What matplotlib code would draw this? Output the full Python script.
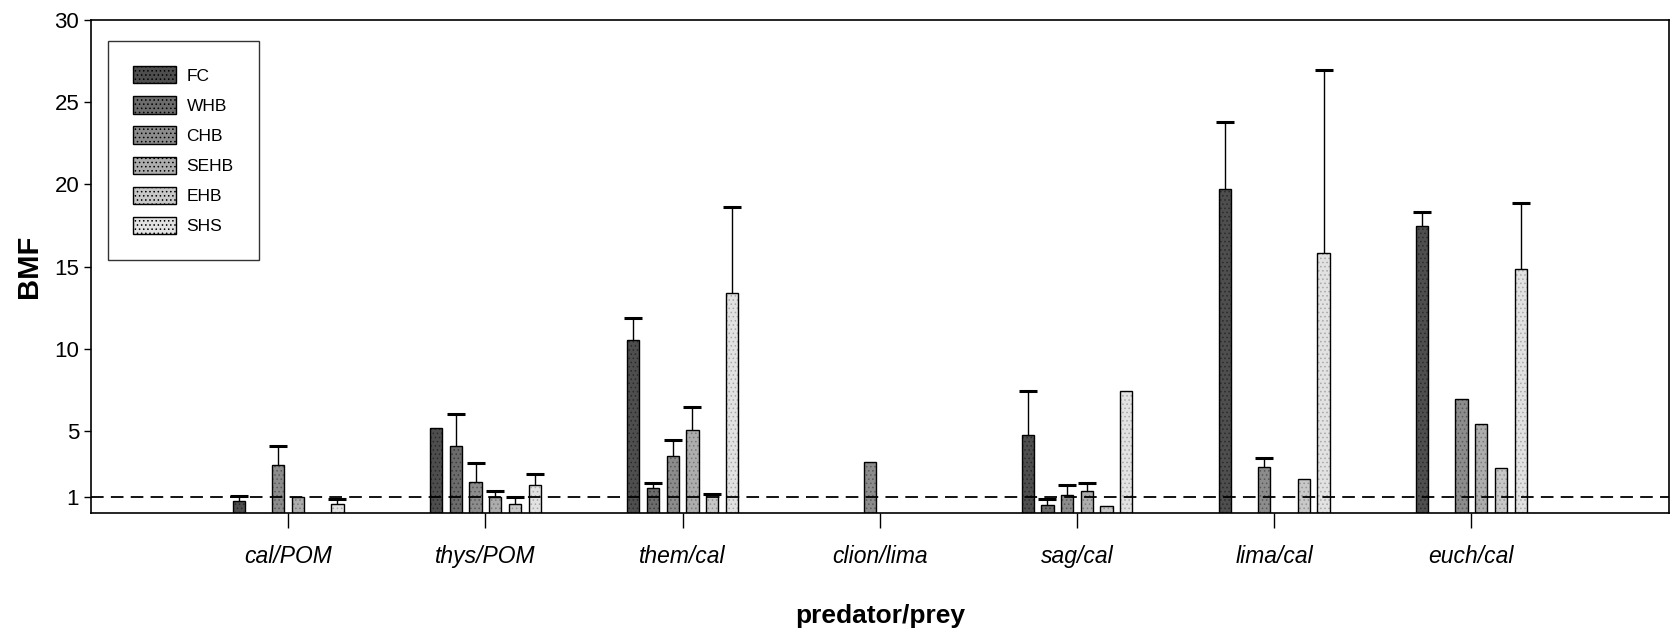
import matplotlib.pyplot as plt
import numpy as np

nan = np.nan

pairs = ["cal/POM", "thys/POM", "them/cal", "clion/lima", "sag/cal", "lima/cal", "euch/cal"]
regions = ["FC", "WHB", "CHB", "SEHB", "EHB", "SHS"]

# BMF means per region, one value per predator/prey pair
fc = [0.75, 5.2, 10.55, nan, 4.75, 19.75, 17.5]
whb = [nan, 4.1, 1.55, nan, 0.5, nan, nan]
chb = [2.9, 1.9, 3.45, 3.1, 1.1, 2.8, 6.95]
sehb = [1.0, 0.95, 5.05, nan, 1.35, nan, 5.4]
ehb = [nan, 0.55, 1.15, nan, 0.45, 2.05, 2.75]
shs = [0.55, 1.7, 13.4, nan, 7.45, 15.85, 14.85]

# upper error (SD), nan where no bar is drawn
fc_err = [0.3, nan, 1.3, nan, 2.65, 4.05, 0.8]
whb_err = [nan, 1.9, 0.3, nan, 0.35, nan, nan]
chb_err = [1.2, 1.15, 1.0, nan, 0.6, 0.55, nan]
sehb_err = [nan, 0.4, 1.4, nan, 0.45, nan, nan]
ehb_err = [nan, 0.4, 0.0, nan, nan, nan, nan]
shs_err = [0.3, 0.65, 5.25, nan, nan, 11.1, 4.0]

means = [fc, whb, chb, sehb, ehb, shs]
errs = [fc_err, whb_err, chb_err, sehb_err, ehb_err, shs_err]
grays = ["#4e4e4e", "#6c6c6c", "#8c8c8c", "#adadad", "#c8c8c8", "#e2e2e2"]
dots = ["#2a2a2a", "#3c3c3c", "#5a5a5a", "#7a7a7a", "#959595", "#a8a8a8"]

plt.rcParams["font.family"] = ["Liberation Sans", "DejaVu Sans"]
plt.rcParams["hatch.linewidth"] = 0.6

fig = plt.figure(figsize=(16.72, 6.33), dpi=100)
ax = fig.add_axes([0.0544, 0.1896, 0.9436, 0.7784])

x = np.arange(1, len(pairs) + 1)
step = 0.1
width = 0.062

handles = []
for i, (vals, err, col, dc) in enumerate(zip(means, errs, grays, dots)):
    pos = x + (i - 2.5) * step
    vals = np.array(vals, dtype=float)
    err = np.array(err, dtype=float)
    ax.bar(pos, vals, width, color=col, edgecolor=dc, hatch="....", linewidth=0, zorder=2)
    ax.bar(pos, vals, width, facecolor="none", edgecolor="black", linewidth=1.0, zorder=3)
    ok = ~np.isnan(err) & ~np.isnan(vals)
    # upper error only: whisker line plus a cap at the top
    ax.errorbar(pos[ok], vals[ok], yerr=[np.zeros(ok.sum()), err[ok]], fmt="none",
                ecolor="black", elinewidth=1.0, capsize=0, zorder=4)
    ax.plot(pos[ok], vals[ok] + err[ok], linestyle="none", marker="_",
            markersize=12.5, markeredgewidth=2.2, color="black", zorder=4)
    handles.append(plt.Rectangle((0, 0), 1, 1, facecolor=col, edgecolor="black",
                                 hatch="....", linewidth=1.0))

ax.axhline(1, color="black", linestyle=(0, (7, 4)), linewidth=1.3, zorder=5)

ax.set_xlim(0, 8)
ax.set_ylim(0, 30)
ax.set_yticks([1, 5, 10, 15, 20, 25, 30])
ax.set_xticks(x)
ax.set_xticklabels(pairs, fontsize=16.5, style="italic")
ax.tick_params(axis="x", length=11, width=1, pad=12, direction="out")
ax.tick_params(axis="y", length=5, width=1, labelsize=16, direction="out")
for s in ax.spines.values():
    s.set_linewidth(1.2)

ax.set_ylabel("BMF", fontsize=21, fontweight="bold", labelpad=8)
ax.set_xlabel("predator/prey", fontsize=19, fontweight="bold", labelpad=26)

leg = ax.legend(handles, regions, loc="upper left", bbox_to_anchor=(0.0105, 0.958),
                fontsize=12.5, frameon=True, fancybox=False, edgecolor="black",
                handlelength=2.5, handleheight=1.15, labelspacing=0.73,
                borderpad=1.45, handletextpad=0.6, borderaxespad=0)
leg.get_frame().set_linewidth(1.0)

fig.savefig("out.png", dpi=100)
